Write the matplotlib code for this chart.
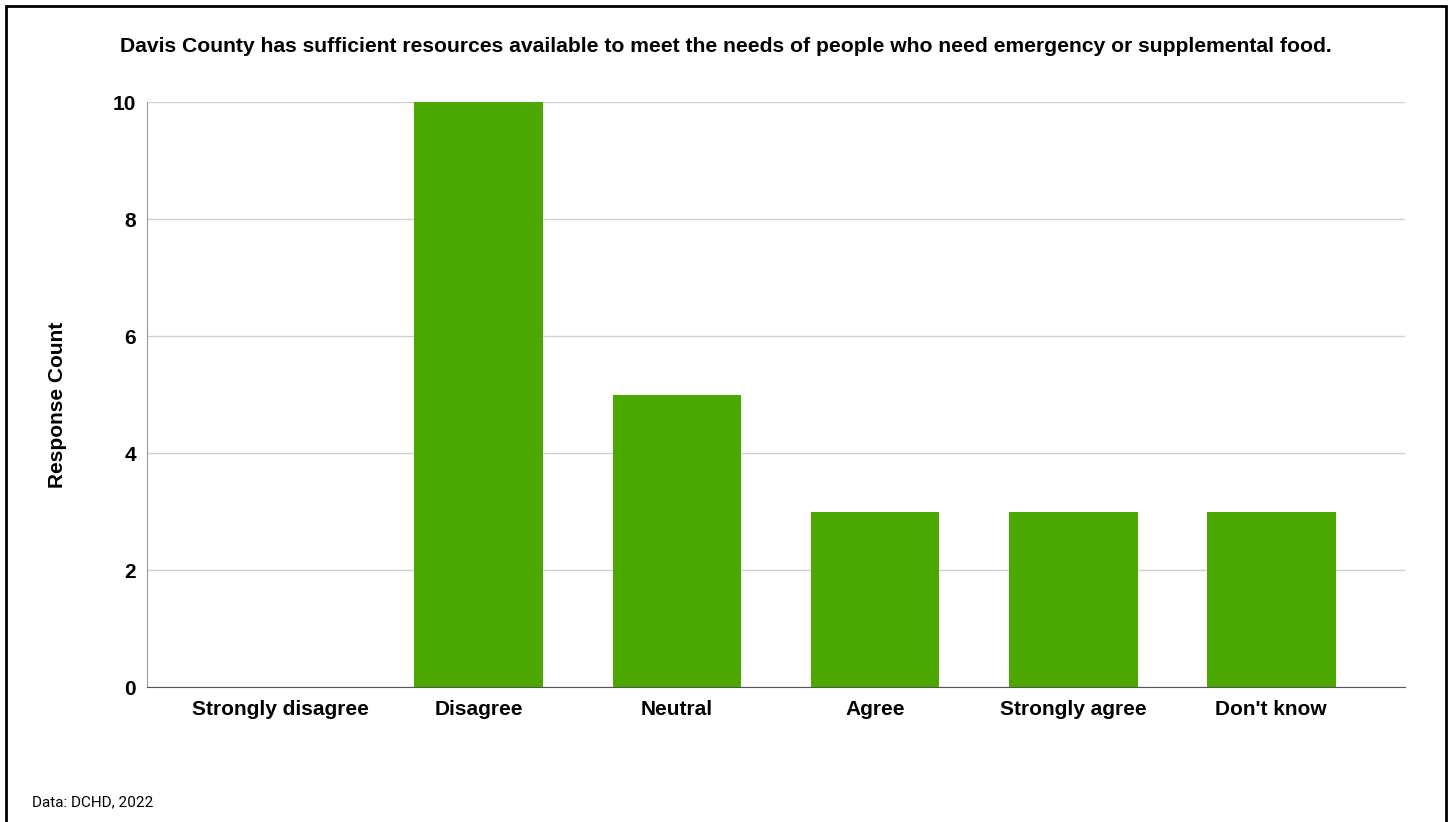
import matplotlib
matplotlib.use('Agg')
import matplotlib.pyplot as plt
from matplotlib.patches import Rectangle

categories = ['Strongly disagree', 'Disagree', 'Neutral', 'Agree', 'Strongly agree', "Don't know"]
counts = [0, 10, 5, 3, 3, 3]
yticks = [0, 2, 4, 6, 8, 10]

title = 'Davis County has sufficient resources available to meet the needs of people who need emergency or supplemental food.'

plt.rcParams['font.family'] = ['Liberation Sans', 'DejaVu Sans']

fig = plt.figure(figsize=(14.52, 8.22), dpi=100)
ax = fig.add_axes([0.1012, 0.1642, 0.8664, 0.7117])

x = list(range(len(categories)))
ax.bar(x, counts, width=0.65, color='#4aa800', zorder=3)

ax.set_xlim(-0.675, 5.675)
ax.set_ylim(0, 10)
ax.set_yticks(yticks)
ax.set_yticklabels([str(v) for v in yticks], fontsize=15, fontweight='bold')
ax.set_xticks(x)
ax.set_xticklabels(categories, fontsize=15, fontweight='bold')
ax.tick_params(axis='x', length=0, pad=9)
ax.tick_params(axis='y', length=0, pad=8)
ax.yaxis.grid(True, color='#d0d0d0', linewidth=1, zorder=0)

for side in ['top', 'right']:
    ax.spines[side].set_visible(False)
ax.spines['left'].set_color('#9a9a9a')
ax.spines['bottom'].set_color('#555555')
ax.spines['bottom'].set_zorder(4)

ax.set_ylabel('Response Count', fontsize=15, fontweight='bold', labelpad=33, y=0.483)

fig.text(0.5, 1 - 47 / 822, title, ha='center', va='center', fontsize=15.2, fontweight='bold')
fig.text(32 / 1452, 1 - 802 / 822, 'Data: DCHD, 2022', ha='left', va='center',
         fontsize=11, family=['Roboto', 'DejaVu Sans'])

fig.patches.append(Rectangle((6 / 1452, -0.01), 1 - 12 / 1452, 1 - 6 / 822 + 0.01,
                             transform=fig.transFigure, fill=False, edgecolor='black', linewidth=2))

fig.savefig('out.png', dpi=100)
